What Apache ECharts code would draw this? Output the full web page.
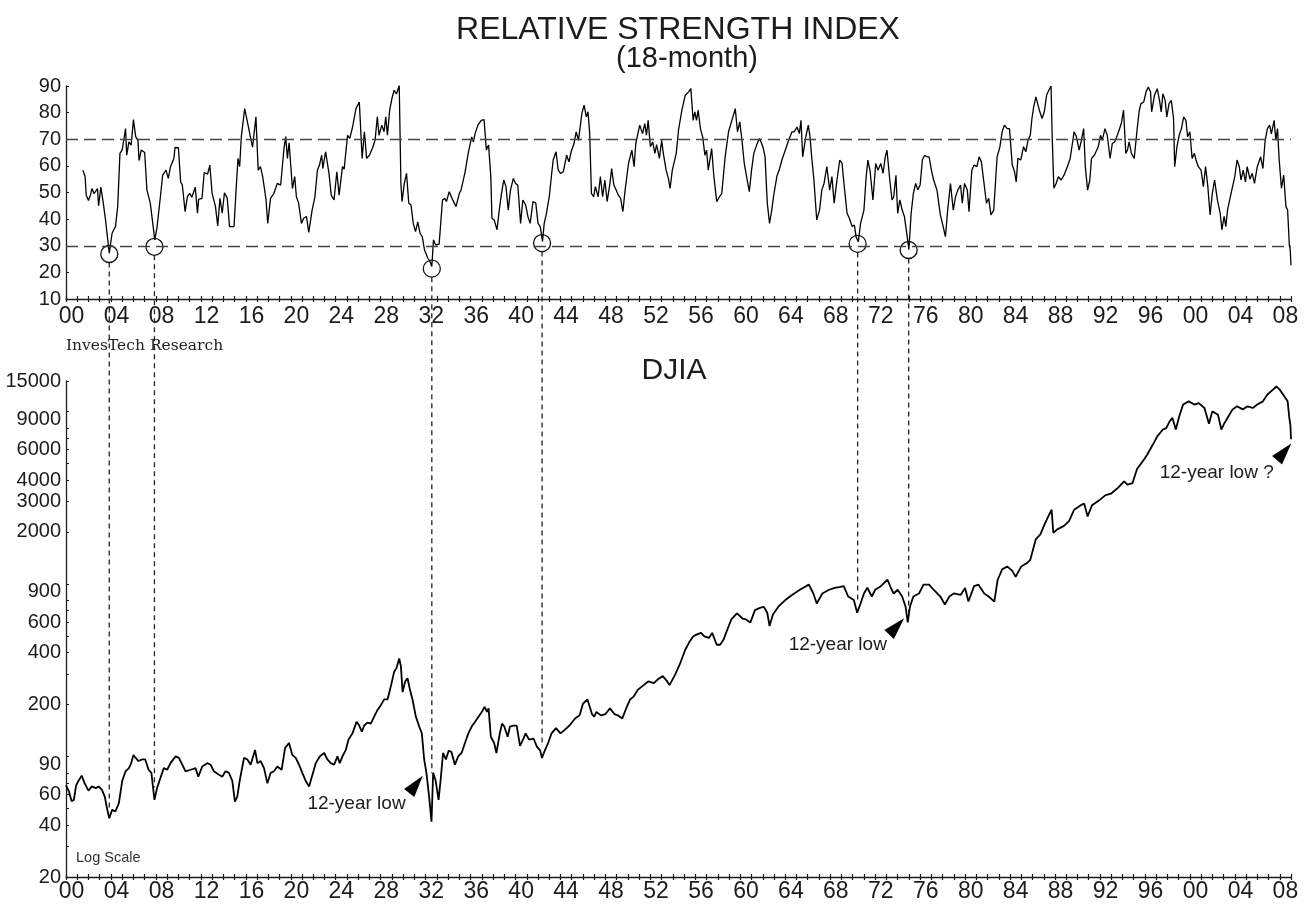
<!DOCTYPE html>
<html>
<head>
<meta charset="utf-8">
<title>Relative Strength Index (18-month) / DJIA</title>
<script src="https://cdn.jsdelivr.net/npm/echarts@6.0.0/dist/echarts.min.js"></script>
<style>
  html, body { margin: 0; padding: 0; background: #fff; }
  #chart { width: 1304px; height: 905px; }
</style>
</head>
<body>
<div id="chart"></div>
<script>
// 18-month RSI (year, value)
const rsiYears = [
  1901.5, 1901.7, 1901.8, 1902.0, 1902.2, 1902.3, 1902.5, 1902.8, 1902.9, 1903.1, 1903.3, 1903.5, 1903.85,
  1904.1, 1904.25, 1904.4, 1904.6, 1904.8, 1905.0, 1905.3, 1905.4, 1905.6, 1905.8, 1906.0, 1906.2, 1906.4,
  1906.5, 1906.7, 1907.0, 1907.2, 1907.5, 1907.9, 1908.1, 1908.4, 1908.6, 1908.9, 1909.1, 1909.3, 1909.6,
  1909.7, 1910.0, 1910.2, 1910.35, 1910.6, 1910.8, 1911.0, 1911.2, 1911.5, 1911.7, 1911.8, 1912.1, 1912.3,
  1912.6, 1912.8, 1913.0, 1913.3, 1913.5, 1913.7, 1913.9, 1914.1, 1914.35, 1914.55, 1914.95, 1915.1, 1915.3,
  1915.45, 1915.6, 1915.9, 1916.2, 1916.4, 1916.6, 1916.9, 1917.1, 1917.3, 1917.5, 1917.8, 1917.95, 1918.2,
  1918.5, 1918.8, 1919.1, 1919.4, 1919.55, 1919.7, 1919.85, 1920.15, 1920.35, 1920.5, 1920.7, 1920.95,
  1921.15, 1921.4, 1921.6, 1921.9, 1922.15, 1922.37, 1922.55, 1922.75, 1922.85, 1923.1, 1923.4, 1923.6,
  1923.85, 1924.1, 1924.3, 1924.6, 1924.75, 1925.05, 1925.25, 1925.5, 1925.8, 1926.1, 1926.35, 1926.55,
  1926.75, 1927.0, 1927.3, 1927.5, 1927.7, 1927.85, 1928.1, 1928.3, 1928.45, 1928.6, 1928.8, 1929.0, 1929.2,
  1929.4, 1929.65, 1929.8, 1929.9, 1930.1, 1930.3, 1930.5, 1930.7, 1930.9, 1931.1, 1931.3, 1931.5, 1931.7,
  1931.9, 1932.2, 1932.4, 1932.55, 1932.7, 1932.9, 1933.2, 1933.5, 1933.7, 1933.85, 1934.1, 1934.35, 1934.7,
  1935.0, 1935.15, 1935.5, 1935.8, 1936.1, 1936.25, 1936.4, 1936.65, 1936.95, 1937.2, 1937.4, 1937.6, 1937.8,
  1937.9, 1938.1, 1938.35, 1938.55, 1938.75, 1938.95, 1939.15, 1939.35, 1939.55, 1939.8, 1940.0, 1940.2,
  1940.45, 1940.65, 1940.9, 1941.1, 1941.3, 1941.55, 1941.8, 1942.0, 1942.2, 1942.4, 1942.55, 1942.75,
  1943.0, 1943.2, 1943.35, 1943.6, 1943.8, 1944.0, 1944.25, 1944.55, 1944.75, 1944.95, 1945.2, 1945.4,
  1945.6, 1945.9, 1946.1, 1946.3, 1946.45, 1946.6, 1946.75, 1946.95, 1947.1, 1947.35, 1947.55, 1947.75,
  1947.95, 1948.15, 1948.4, 1948.55, 1948.75, 1948.95, 1949.15, 1949.35, 1949.55, 1949.75, 1950.05, 1950.35,
  1950.55, 1950.7, 1951.05, 1951.3, 1951.5, 1951.65, 1951.8, 1952.0, 1952.2, 1952.4, 1952.55, 1952.8, 1953.0,
  1953.15, 1953.4, 1953.6, 1953.75, 1953.95, 1954.3, 1954.5, 1954.8, 1955.1, 1955.4, 1955.6, 1955.8, 1955.95,
  1956.1, 1956.25, 1956.45, 1956.65, 1956.85, 1957.0, 1957.15, 1957.45, 1957.65, 1957.9, 1958.15, 1958.35,
  1958.65, 1958.95, 1959.25, 1959.55, 1959.75, 1959.95, 1960.15, 1960.35, 1960.5, 1960.8, 1961.0, 1961.2,
  1961.45, 1961.7, 1961.9, 1962.05, 1962.2, 1962.4, 1962.6, 1962.8, 1962.95, 1963.25, 1963.5, 1963.7, 1964.0,
  1964.3, 1964.6, 1964.8, 1965.05, 1965.25, 1965.4, 1965.55, 1965.8, 1966.05, 1966.2, 1966.35, 1966.55,
  1966.8, 1967.05, 1967.25, 1967.45, 1967.7, 1967.95, 1968.15, 1968.35, 1968.6, 1968.85, 1969.05, 1969.25,
  1969.5, 1969.7, 1969.95, 1970.15, 1970.3, 1970.5, 1970.7, 1971.0, 1971.2, 1971.35, 1971.55, 1971.8,
  1972.05, 1972.25, 1972.5, 1972.7, 1972.9, 1973.05, 1973.3, 1973.5, 1973.65, 1973.85, 1974.0, 1974.2,
  1974.4, 1974.6, 1974.85, 1975.0, 1975.2, 1975.4, 1975.6, 1975.8, 1976.0, 1976.2, 1976.4, 1976.6, 1976.8,
  1977.0, 1977.2, 1977.5, 1977.8, 1978.05, 1978.25, 1978.45, 1978.7, 1978.95, 1979.15, 1979.35, 1979.6,
  1979.75, 1979.95, 1980.2, 1980.35, 1980.6, 1980.8, 1981.05, 1981.25, 1981.45, 1981.65, 1981.9, 1982.1,
  1982.3, 1982.55, 1982.7, 1982.85, 1983.1, 1983.3, 1983.5, 1983.75, 1983.95, 1984.2, 1984.4, 1984.55,
  1984.7, 1984.95, 1985.2, 1985.4, 1985.6, 1985.8, 1985.95, 1986.1, 1986.3, 1986.45, 1986.65, 1986.85,
  1987.05, 1987.25, 1987.45, 1987.65, 1987.75, 1987.9, 1988.1, 1988.3, 1988.55, 1988.8, 1989.1, 1989.35,
  1989.55, 1989.7, 1989.9, 1990.15, 1990.35, 1990.55, 1990.7, 1990.9, 1991.1, 1991.25, 1991.5, 1991.85,
  1992.05, 1992.2, 1992.45, 1992.65, 1992.9, 1993.1, 1993.3, 1993.5, 1993.7, 1993.9, 1994.1, 1994.3, 1994.45,
  1994.6, 1994.8, 1995.05, 1995.3, 1995.5, 1995.65, 1995.9, 1996.1, 1996.3, 1996.5, 1996.6, 1996.85, 1997.1,
  1997.3, 1997.45, 1997.6, 1997.8, 1997.95, 1998.15, 1998.35, 1998.55, 1998.65, 1998.85, 1999.05, 1999.25,
  1999.45, 1999.65, 1999.8, 2000.0, 2000.2, 2000.4, 2000.55, 2000.75, 2001.0, 2001.2, 2001.4, 2001.6, 2001.8,
  2002.0, 2002.2, 2002.45, 2002.7, 2002.85, 2003.05, 2003.2, 2003.35, 2003.6, 2003.8, 2004.0, 2004.2, 2004.4,
  2004.55, 2004.75, 2004.95, 2005.1, 2005.35, 2005.55, 2005.75, 2006.0, 2006.3, 2006.5, 2006.7, 2006.9,
  2007.1, 2007.25, 2007.5, 2007.65, 2007.8, 2007.95, 2008.15, 2008.35, 2008.55, 2008.7, 2008.85, 2008.93,
  2009.0
];
const rsiValues = [
  58.4, 56, 49, 47, 49.4, 51.5, 49.6, 51.5, 45, 52, 46.6, 40.3, 27.2,
  34.7, 36, 37.2, 44.7, 64.7, 66, 74, 64, 69, 67.8, 77.4, 71, 69.6,
  62, 66, 65, 51, 46, 32.2, 37, 48.4, 56.5, 58.4, 55.3, 59.7, 62.8,
  66.9, 66.8, 54, 52.8, 42.8, 48.4, 49.7, 48.2, 52, 42.2, 47.4, 47.8, 57.5,
  56.9, 60.3, 49.7, 44.7, 37.4, 47.8, 42.2, 49.9, 47.8, 37.2, 37.2, 48.4, 62.8,
  59.7, 71, 81.5, 75.3, 71, 67, 78.4, 58.4, 59.7, 56, 47.2, 38.4, 47.8,
  49.7, 53.4, 52.8, 66.7, 71, 62.8, 68.7, 51.5, 56, 48.4, 46, 38.4,
  40.3, 41, 35, 43.4, 48.4, 58.4, 60.3, 64, 59, 65.3, 57.2, 49,
  47.2, 57.8, 49, 59.7, 58.8, 71.5, 70.3, 74.6, 81.5, 84, 62.8, 72.8,
  62.8, 64, 67, 69.6, 78.4, 71.5, 75.3, 72.8, 78.4, 71.5, 80.9, 85.3, 88.4,
  87, 90.2, 53.4, 46.6, 53.4, 57.2, 46, 45.3, 38.4, 35.3, 39, 34.7, 33.4,
  28.4, 25.3, 24, 22.2, 32.2, 30.3, 30.6, 47.2, 47.8, 46.6, 50.3, 47.8, 44.7,
  49.7, 50.9, 57.5, 65, 70.9, 69, 72.1, 75.3, 77.1, 77.4, 66, 67.8, 56,
  40.3, 39.7, 36, 43.4, 49.7, 54.7, 52.2, 43.4, 50.9, 55.3, 53.4, 52.8,
  38.4, 47.2, 45.3, 41, 38.4, 46.6, 46, 38.4, 37.2, 31.6, 38.4, 42.2,
  48.4, 56.5, 62.2, 65.3, 58.4, 57.2, 57.8, 64, 61.5, 65.3, 68.4, 72.8,
  69.6, 79.6, 82.8, 78.4, 80.3, 72.1, 49.7, 48.4, 52.2, 48.4, 56, 48.4,
  54.7, 46.6, 53.4, 59, 52.8, 50.9, 49, 47.8, 42.8, 50.9, 60.9, 65.9,
  59.7, 68.4, 75.3, 72.1, 75.9, 71.5, 77.1, 67.2, 69, 64.7, 68, 62.8, 69.6,
  64.7, 58.4, 55.3, 51.5, 58.4, 64.7, 73.4, 80.9, 86.5, 87.8, 89, 77.1, 80.3,
  77.1, 80.9, 74, 70.9, 64, 65.9, 58.4, 66.5, 55.9, 46.6, 48.4, 49.7,
  63.4, 72.8, 77.1, 81.5, 72.8, 76.5, 69.6, 60.9, 60.3, 50.3, 58.4, 64.7,
  67.8, 70.3, 68.4, 66.5, 63.4, 46, 38.4, 43.4, 48.4, 56, 59, 62.2, 65.9,
  69.6, 72.8, 72.8, 74.6, 72.1, 77.1, 63.4, 70.3, 75.3, 71, 63.4, 54.7,
  39.7, 43.4, 50.9, 53.4, 59.7, 50.9, 56, 46, 54.7, 62.2, 61, 52.2,
  42.2, 40.3, 37.2, 37.8, 33.4, 31.5, 38.4, 43.4, 56, 62.2, 58, 47.2,
  60.9, 58.4, 60.9, 57.2, 63.4, 65.9, 54.7, 47.2, 48.4, 56.5, 42.2, 47.2,
  43.4, 41, 33.4, 28.5, 42.2, 49.7, 53.4, 51, 52.8, 62.2, 64, 63.4, 63.4,
  58.4, 54.7, 50.9, 41.6, 37.2, 33.4, 43.4, 53.4, 43.4, 48.4, 50.9, 52.8,
  46, 53.4, 50.9, 42.8, 58.4, 60.3, 59.7, 63.4, 61.5, 54.7, 46, 47.8,
  41.6, 43.4, 53.4, 63.4, 67.2, 72.8, 75.3, 74, 74, 60.3, 57.8, 54,
  62.8, 62.2, 67.2, 65.3, 69.6, 71.5, 77.8, 82.1, 85.9, 86.5, 80.3, 77.8,
  80.3, 86.5, 88.4, 90, 71, 51.6, 53.4, 55.9, 54.7, 56.5, 59.7, 62.8,
  68.4, 72.8, 71, 65.9, 69.6, 74, 59.7, 50.9, 54.7, 62.8, 64, 67.2,
  71.5, 69.6, 74, 71.5, 62.8, 68.4, 69, 70.9, 73.4, 75.9, 80.9, 64.7, 66,
  69, 64.7, 62.8, 73.4, 80.9, 83.4, 84, 87.8, 89.6, 87.8, 80.3, 86.5, 89,
  84.6, 80.3, 87.1, 84.6, 78.4, 83.4, 84.6, 77.8, 59.7, 67.2, 71.5, 74,
  78.4, 77.1, 70.9, 72.8, 62.8, 64.7, 62.2, 59.7, 58.4, 52.2, 59.7, 52.2, 41.6,
  49.7, 54.7, 47.2, 42.2, 36, 41, 37.2, 43.4, 48.4, 52.2, 56, 62.2, 59.7,
  54.7, 58.4, 54, 59.7, 55, 57.2, 53.4, 59.7, 63.4, 59, 69.6, 74,
  75.3, 72, 77.1, 69.6, 74, 62.2, 51.6, 56.5, 44.7, 43.4, 30.3, 28.5,
  22.7
];

// Dow Jones Industrial Average (year, value)
const djiaYears = [
  1900.0, 1900.25, 1900.5, 1900.7, 1900.9, 1901.1, 1901.4, 1901.65, 1902.0, 1902.3, 1902.65, 1902.9,
  1903.2, 1903.45, 1903.65, 1903.85, 1904.1, 1904.4, 1904.7, 1905.0, 1905.3, 1905.6, 1905.8, 1906.0,
  1906.2, 1906.45, 1906.75, 1907.05, 1907.35, 1907.6, 1907.87, 1908.1, 1908.4, 1908.7, 1909.0, 1909.3,
  1909.75, 1910.05, 1910.35, 1910.64, 1911.08, 1911.53, 1911.77, 1912.12, 1912.57, 1912.87, 1913.16,
  1913.61, 1913.9, 1914.2, 1914.5, 1914.8, 1915.03, 1915.24, 1915.45, 1915.84, 1916.14, 1916.43, 1916.82,
  1917.03, 1917.32, 1917.62, 1917.92, 1918.21, 1918.51, 1918.8, 1919.19, 1919.49, 1919.84, 1920.14,
  1920.44, 1920.74, 1921.03, 1921.33, 1921.63, 1921.93, 1922.22, 1922.58, 1922.97, 1923.26, 1923.56,
  1923.86, 1924.15, 1924.36, 1924.6, 1924.9, 1925.13, 1925.49, 1925.85, 1926.09, 1926.32, 1926.53,
  1926.83, 1927.12, 1927.42, 1927.72, 1928.01, 1928.31, 1928.61, 1928.9, 1929.2, 1929.41, 1929.65,
  1929.8, 1929.95, 1930.18, 1930.39, 1930.6, 1930.83, 1931.13, 1931.43, 1931.66, 1931.87, 1932.07,
  1932.31, 1932.52, 1932.67, 1932.9, 1933.15, 1933.35, 1933.55, 1933.8, 1934.05, 1934.3, 1934.6, 1934.9,
  1935.2, 1935.5, 1935.8, 1936.1, 1936.4, 1936.7, 1937.0, 1937.25, 1937.45, 1937.6, 1937.8, 1938.1,
  1938.3, 1938.6, 1938.8, 1939.0, 1939.3, 1939.5, 1939.8, 1940.1, 1940.4, 1940.7, 1940.9, 1941.2, 1941.6,
  1941.9, 1942.2, 1942.35, 1942.6, 1942.9, 1943.2, 1943.6, 1944.0, 1944.4, 1944.8, 1945.3, 1945.7, 1946.0,
  1946.4, 1946.8, 1947.0, 1947.2, 1947.6, 1948.0, 1948.4, 1948.8, 1949.1, 1949.5, 1949.9, 1950.2, 1950.5,
  1950.9, 1951.4, 1951.8, 1952.3, 1952.7, 1953.1, 1953.5, 1953.7, 1954.2, 1954.6, 1955.1, 1955.5, 1955.8,
  1956.1, 1956.5, 1956.8, 1957.2, 1957.5, 1957.9, 1958.2, 1958.5, 1958.9, 1959.2, 1959.7, 1960.2, 1960.5,
  1960.9, 1961.3, 1961.8, 1962.1, 1962.4, 1962.6, 1962.9, 1963.4, 1964.0, 1964.6, 1965.3, 1966.1, 1966.5,
  1966.8, 1967.3, 1967.9, 1968.4, 1968.9, 1969.2, 1969.6, 1970.1, 1970.4, 1970.7, 1971.0, 1971.3, 1971.7,
  1972.0, 1972.5, 1973.1, 1973.4, 1973.65, 1974.0, 1974.4, 1974.7, 1974.9, 1975.1, 1975.4, 1975.9, 1976.3,
  1976.8, 1977.2, 1977.8, 1978.2, 1978.6, 1979.0, 1979.6, 1980.0, 1980.3, 1980.8, 1981.2, 1981.7, 1982.1,
  1982.6, 1982.9, 1983.3, 1983.75, 1984.2, 1984.5, 1985.0, 1985.5, 1985.8, 1986.3, 1986.7, 1987.1, 1987.4,
  1987.7, 1987.85, 1988.2, 1988.8, 1989.25, 1989.7, 1990.3, 1990.6, 1990.9, 1991.3, 1991.9, 1992.5,
  1993.0, 1993.6, 1994.15, 1994.45, 1994.9, 1995.3, 1995.8, 1996.2, 1996.7, 1997.1, 1997.6, 1997.9,
  1998.2, 1998.45, 1998.75, 1999.05, 1999.4, 1999.9, 2000.4, 2000.8, 2001.3, 2001.7, 2002.0, 2002.5,
  2002.8, 2003.05, 2003.35, 2003.8, 2004.2, 2004.7, 2005.15, 2005.6, 2006.0, 2006.5, 2006.9, 2007.4,
  2007.7, 2008.0, 2008.4, 2008.7, 2008.85, 2008.95, 2009.0
];
const djiaValues = [
  68, 63, 55, 56, 68, 72, 77.4, 70, 63.4, 67, 65.5, 67,
  64, 58.5, 50, 43.8, 49, 48, 53.5, 72, 82, 85.5, 91.4, 102,
  98, 94, 96, 96, 83.7, 80.3, 56, 65.5, 75, 85.5, 83.7, 91.4,
  100, 98, 89.5, 82, 83.7, 85.5, 76.3, 87.3, 91.4, 89.5, 82,
  78.4, 76.3, 82, 80.3, 72, 54.7, 58.5, 72, 98, 96, 89.5, 109,
  91.4, 94, 85.5, 69.8, 80.3, 82, 87.3, 83.7, 111.7, 119.6, 102,
  98, 89.5, 80.3, 72, 67, 78.4, 91.4, 100, 104.7, 96, 91.4,
  89.5, 100, 91.4, 100, 109, 125, 136, 159, 151, 139, 151,
  157, 155, 170, 186, 198, 214, 214, 254, 310, 325, 370,
  333, 236, 272, 284, 244, 214, 170, 149, 136, 96, 80.3,
  58.5, 41.8, 80.3, 72, 56, 75, 104.7, 96, 108, 106, 89.5, 100,
  104.7, 119.6, 136, 149, 159, 170, 181, 194, 181, 190, 130, 119.6,
  104.7, 136, 155, 149, 130, 149, 151, 151, 115, 127, 136, 125, 127,
  114, 108, 98, 108, 119.6, 136, 146, 136, 143, 151, 166, 173, 202,
  214, 176, 170, 181, 173, 176, 190, 176, 173, 166, 194, 214, 222,
  244, 259, 272, 266, 281, 292, 272, 259, 298, 340, 415, 464, 496,
  508, 520, 496, 486, 520, 444, 444, 474, 555, 622, 675, 630, 622,
  598, 705, 728, 735, 680, 570, 665, 740, 806, 863, 925, 990, 880,
  770, 880, 925, 947, 960, 970, 845, 806, 681, 770, 880, 950, 845,
  925, 970, 1057, 947, 880, 925, 845, 740, 598, 740, 845, 880, 990,
  990, 925, 845, 760, 845, 880, 863, 947, 790, 970, 990, 880, 845,
  790, 1057, 1214, 1263, 1190, 1100, 1263, 1320, 1380, 1820, 1938, 2238, 2460,
  2690, 1980, 2070, 2170, 2310, 2690, 2860, 2920, 2460, 2860, 3040, 3270,
  3340, 3600, 3930, 3760, 3840, 4630, 5130, 5610, 6400, 7170, 7850, 8000,
  8760, 9160, 7850, 9340, 10950, 11430, 10950, 11170, 10460, 8490, 10000, 9570,
  7850, 8490, 9160, 10270, 10700, 10270, 10700, 10460, 10950, 11430, 12530, 13360,
  13940, 13360, 12220, 11430, 9160, 8300, 6900
];

// circled RSI lows and where their guide lines meet the DJIA
const lowYears = [1903.85, 1907.87, 1932.55, 1942.36, 1970.44, 1974.98];
const lowRsi = [26.9, 29.6, 21.4, 31, 30.7, 28.4];
const lowDjia = [50, 66, 80, 114, 800, 680];

// arrow heads and notes on the DJIA panel
const arrowYears = [1931.14, 1973.91, 2008.39];
const arrowValues = [68.8, 567, 5826];
const noteYears = [1925.85, 1968.67, 2002.39];
const noteValues = [53.5, 444, 4394];
const noteTexts = ['12-year low', '12-year low', '12-year low ?'];

// axis ticks and labels
const rsiRefLines = [70, 30];
const djiaLabelValues = [20, 40, 60, 90, 200, 400, 600, 900, 2000, 3000, 4000, 6000, 9000, 15000];
const djiaTickValues = [20, 30, 40, 50, 60, 70, 80, 100, 200, 300, 400, 500, 600, 700, 800, 1000,
  2000, 3000, 4000, 5000, 6000, 7000, 8000, 10000, 15000];
const yearCats = [];
for (let y = 1900; y <= 2008; y++) yearCats.push(String(y));

const FONT = "'Liberation Sans', Arial, sans-serif";
const INK = '#1c1c1c';
const arrowRotate = [-38, -43, -40];

const chart = echarts.init(document.getElementById('chart'), null, { renderer: 'canvas' });

function valueXAxis(gridIndex) {
  return {
    type: 'value', gridIndex, min: 1900, max: 2009, interval: 1,
    axisLine: { show: true, lineStyle: { color: INK, width: 1.3 } },
    axisTick: { show: true, inside: true, length: 3, lineStyle: { color: INK, width: 1.2 } },
    axisLabel: { show: false },
    splitLine: { show: false }
  };
}
function yearXAxis(gridIndex, margin) {
  return {
    type: 'category', gridIndex, data: yearCats, boundaryGap: true, position: 'bottom',
    axisLine: { show: false },
    axisTick: { show: true, interval: 0, length: 3, lineStyle: { color: INK, width: 1.2 } },
    axisLabel: { interval: 3, margin, fontFamily: FONT, fontSize: 23, color: INK,
      formatter: v => v.slice(2) },
    splitLine: { show: false }
  };
}

const option = {
  animation: false,
  backgroundColor: '#fff',
  title: [
    { text: 'RELATIVE STRENGTH INDEX', left: 678, top: 14, textAlign: 'center', padding: 0,
      textStyle: { fontFamily: FONT, fontSize: 32, fontWeight: 'normal', color: INK } },
    { text: '(18-month)', left: 687, top: 44, textAlign: 'center', padding: 0,
      textStyle: { fontFamily: FONT, fontSize: 29, fontWeight: 'normal', color: INK } },
    { text: 'InvesTech Research', left: 66, top: 338, padding: 0,
      textStyle: { fontFamily: "'DejaVu Serif', serif", fontSize: 15.5, fontWeight: 'normal', color: '#222' } },
    { text: 'DJIA', left: 674, top: 356, textAlign: 'center', padding: 0,
      textStyle: { fontFamily: FONT, fontSize: 30, fontWeight: 'normal', color: INK } },
    { text: 'Log Scale', left: 76, top: 850, padding: 0,
      textStyle: { fontFamily: FONT, fontSize: 14.5, fontWeight: 'normal', color: '#333' } }
  ],
  grid: [
    { left: 66, right: 13, top: 86, height: 213 },
    { left: 66, right: 13, top: 381, height: 496 }
  ],
  xAxis: [valueXAxis(0), yearXAxis(0, 6), valueXAxis(1), yearXAxis(1, 3)],
  yAxis: [
    {
      type: 'value', gridIndex: 0, min: 10, max: 90, interval: 10,
      axisLine: { show: true, lineStyle: { color: INK, width: 1.3 } },
      axisTick: { show: true, inside: true, length: 3, lineStyle: { color: INK } },
      axisLabel: { fontFamily: FONT, fontSize: 20, margin: 5, color: INK },
      splitLine: { show: false }
    },
    {
      type: 'log', gridIndex: 1, logBase: 10, min: 20, max: 15000,
      axisLine: { show: true, lineStyle: { color: INK, width: 1.3 } },
      axisTick: { show: true, inside: true, length: 3, customValues: djiaTickValues, lineStyle: { color: INK } },
      axisLabel: { fontFamily: FONT, fontSize: 20, margin: 5, color: INK, customValues: djiaLabelValues,
        formatter: v => String(Math.round(v)) },
      minorTick: { show: false },
      splitLine: { show: false }
    }
  ],
  series: [
    {
      name: 'RSI', type: 'line', xAxisIndex: 0, yAxisIndex: 0,
      data: rsiYears.map((y, i) => [y, rsiValues[i]]),
      symbol: 'none', lineStyle: { color: '#000', width: 1.3 }, z: 3,
      markLine: {
        silent: true, symbol: ['none', 'none'], label: { show: false },
        lineStyle: { color: '#444', width: 1.4, type: [12, 6] },
        data: rsiRefLines.map(v => ({ yAxis: v }))
      }
    },
    {
      name: 'DJIA', type: 'line', xAxisIndex: 2, yAxisIndex: 1,
      data: djiaYears.map((y, i) => [y, djiaValues[i]]),
      symbol: 'none', lineStyle: { color: '#000', width: 1.8 }, z: 3
    },
    {
      name: 'lows', type: 'scatter', xAxisIndex: 0, yAxisIndex: 0,
      data: lowYears.map((y, i) => [y, lowRsi[i]]),
      symbol: 'circle', symbolSize: 17,
      itemStyle: { color: 'rgba(0,0,0,0)', borderColor: '#111', borderWidth: 1.3, opacity: 1 }, z: 4
    },
    {
      name: 'arrows', type: 'scatter', xAxisIndex: 2, yAxisIndex: 1,
      data: arrowYears.map((y, i) => ({ value: [y, arrowValues[i]], symbolRotate: arrowRotate[i] })),
      symbol: 'triangle', symbolSize: [13, 22],
      itemStyle: { color: '#000', opacity: 1 }, z: 4
    },
    {
      name: 'notes', type: 'scatter', xAxisIndex: 2, yAxisIndex: 1,
      data: noteYears.map((y, i) => ({ name: noteTexts[i], value: [y, noteValues[i]] })),
      symbol: 'circle', symbolSize: 1, itemStyle: { color: 'rgba(0,0,0,0)', opacity: 1 },
      label: { show: true, position: 'inside', formatter: p => p.name,
        fontFamily: FONT, fontSize: 19, color: INK }, z: 4
    }
  ]
};
chart.setOption(option);

// dashed guides from each circled low down to the DJIA line
const guides = lowYears.map((y, i) => {
  const top = chart.convertToPixel({ seriesIndex: 0 }, [y, lowRsi[i]]);
  const bottom = chart.convertToPixel({ seriesIndex: 1 }, [y, lowDjia[i]]);
  return {
    type: 'line', silent: true, z: 2,
    shape: { x1: top[0], y1: top[1] + 8.5, x2: top[0], y2: bottom[1] },
    style: { stroke: '#222', lineWidth: 1.3, lineDash: [5, 4] }
  };
});
chart.setOption({ graphic: guides });
</script>
</body>
</html>
